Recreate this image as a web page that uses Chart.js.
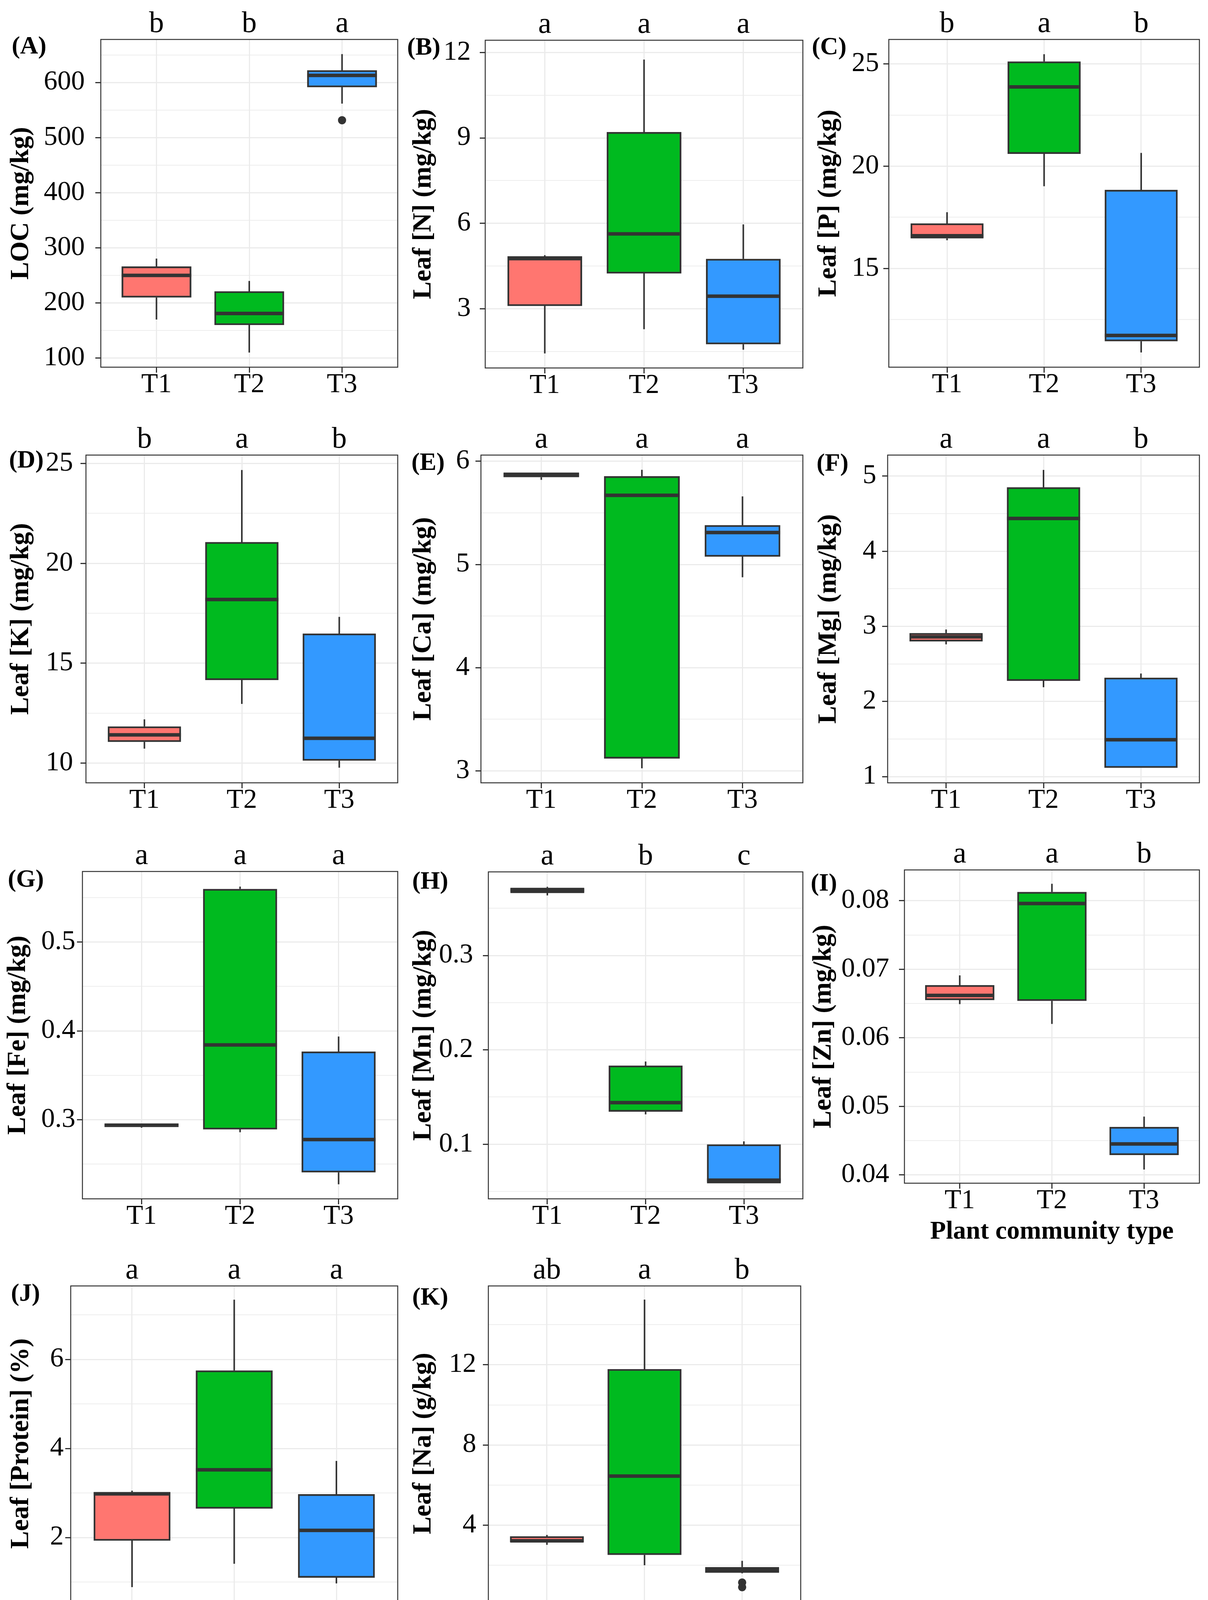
<!DOCTYPE html>
<html>
<head>
<meta charset="utf-8">
<script src="https://cdn.jsdelivr.net/npm/chart.js@4.4.1/dist/chart.umd.min.js"></script>
<style>
  html, body { margin: 0; padding: 0; background: #fff; }
  #page { position: relative; width: 3092px; height: 4277px; background: #fff; }
  #page canvas { position: absolute; }
</style>
</head>
<body>
<div id="page"></div>
<script>
// groups (x categories)
const groups = ['T1', 'T2', 'T3'];

// one entry per panel, A..K
const panelTags = ['(A)', '(B)', '(C)', '(D)', '(E)', '(F)', '(G)', '(H)', '(I)', '(J)', '(K)'];
const yTitles = [
  'LOC (mg/kg)', 'Leaf [N] (mg/kg)', 'Leaf [P] (mg/kg)',
  'Leaf [K] (mg/kg)', 'Leaf [Ca] (mg/kg)', 'Leaf [Mg] (mg/kg)',
  'Leaf [Fe] (mg/kg)', 'Leaf [Mn] (mg/kg)', 'Leaf [Zn] (mg/kg)',
  'Leaf [Protein] (%)', 'Leaf [Na] (g/kg)'
];
const sigLetters = [
  ['b', 'b', 'a'], ['a', 'a', 'a'], ['b', 'a', 'b'],
  ['b', 'a', 'b'], ['a', 'a', 'a'], ['a', 'a', 'b'],
  ['a', 'a', 'a'], ['a', 'b', 'c'], ['a', 'a', 'b'],
  ['a', 'a', 'a'], ['ab', 'a', 'b']
];

// box plot statistics (T1, T2, T3)
const whiskerLow = [
  [170, 110, 561.7], [1.43, 2.28, 1.56], [16.38, 19.02, 10.89],
  [10.72, 12.96, 9.77], [5.82, 3.025, 4.876], [2.76, 2.19, 1.118],
  [0.291, 0.286, 0.2274], [0.3637, 0.1316, 0.0586], [0.06492, 0.06204, 0.0408],
  [0.885, 1.41, 0.97], [3.02, 2.0, 1.6]
];
const q1 = [
  [210, 160, 591.5], [3.10, 4.24, 1.755], [16.47, 20.61, 11.44],
  [11.06, 14.16, 10.12], [5.846, 3.12, 5.076], [2.80, 2.275, 1.118],
  [0.2918, 0.2892, 0.2408], [0.3662, 0.1346, 0.0586], [0.06552, 0.0654, 0.04292],
  [1.93, 2.65, 1.10], [3.15, 2.52, 1.63]
];
const median = [
  [250, 181, 612.8], [4.76, 5.63, 3.44], [16.6, 23.88, 11.72],
  [11.41, 18.19, 11.24], [5.866, 5.67, 5.31], [2.861, 4.436, 1.49],
  [0.2939, 0.3842, 0.2777], [0.3692, 0.144, 0.0619], [0.0662, 0.0796, 0.04452],
  [2.98, 3.52, 2.16], [3.22, 6.45, 1.77]
];
const q3 = [
  [266, 221, 622], [4.84, 9.2, 4.75], [17.2, 25.12, 18.84],
  [11.83, 21.06, 16.48], [5.89, 5.854, 5.38], [2.91, 4.85, 2.316],
  [0.2956, 0.5597, 0.3767], [0.3717, 0.1832, 0.0997], [0.06768, 0.08128, 0.047],
  [3.02, 5.75, 2.97], [3.44, 11.78, 1.91]
];
const whiskerHigh = [
  [280.5, 240, 651.5], [4.88, 11.75, 5.96], [17.75, 25.48, 20.65],
  [12.19, 24.67, 17.32], [5.89, 5.917, 5.66], [2.958, 5.083, 2.372],
  [0.2956, 0.5624, 0.3937], [0.3728, 0.1876, 0.103], [0.06912, 0.08248, 0.04852],
  [3.05, 7.34, 3.72], [3.51, 15.25, 2.22]
];
const outliers = [
  [[], [], [531.5]], [[], [], []], [[], [], []],
  [[], [], []], [[], [], []], [[], [], []],
  [[], [], []], [[], [], []], [[], [], []],
  [[], [], []], [[], [], [1.14, 0.906]]
];

// y axes
const yLimits = [
  [83.5, 678], [0.92, 12.43], [10.17, 26.2],
  [9.01, 25.42], [2.884, 6.06], [0.917, 5.28],
  [0.211, 0.5794], [0.0421, 0.3886], [0.0388, 0.0845],
  [0.57, 7.65], [0.21, 15.93]
];
const yMajor = [
  [100, 200, 300, 400, 500, 600], [3, 6, 9, 12], [15, 20, 25],
  [10, 15, 20, 25], [3, 4, 5, 6], [1, 2, 3, 4, 5],
  [0.3, 0.4, 0.5], [0.1, 0.2, 0.3], [0.04, 0.05, 0.06, 0.07, 0.08],
  [2, 4, 6], [4, 8, 12]
];
const yMajorLabels = [
  ['100', '200', '300', '400', '500', '600'], ['3', '6', '9', '12'], ['15', '20', '25'],
  ['10', '15', '20', '25'], ['3', '4', '5', '6'], ['1', '2', '3', '4', '5'],
  ['0.3', '0.4', '0.5'], ['0.1', '0.2', '0.3'], ['0.04', '0.05', '0.06', '0.07', '0.08'],
  ['2', '4', '6'], ['4', '8', '12']
];
const yMinor = [
  [150, 250, 350, 450, 550, 650], [1.5, 4.5, 7.5, 10.5], [12.5, 17.5, 22.5],
  [12.5, 17.5, 22.5], [3.5, 4.5, 5.5], [1.5, 2.5, 3.5, 4.5],
  [0.25, 0.35, 0.45, 0.55], [0.05, 0.15, 0.25, 0.35], [0.045, 0.055, 0.065, 0.075],
  [1, 3, 5, 7], [2, 6, 10, 14]
];
const xTitle = 'Plant community type';

// colours
const fills = ['#FF7670', '#00BA1F', '#3399FF'];
const INK = '#333333';
const FONT = '"Liberation Serif", "Times New Roman", serif';

// layout of every panel on the page: canvas box + plot area (page px)
const geo = [
  { x: 0,    y: 0,    w: 1030, h: 1064, plot: [258, 101, 1018, 940],   tag: [30, 36], tickPad: 27, titlePad: 14 },
  { x: 1030, y: 0,    w: 1030, h: 1064, plot: [1242, 103, 2055, 942],  tag: [12, 37], tickPad: 23, titlePad: 14 },
  { x: 2060, y: 0,    w: 1032, h: 1064, plot: [2275, 101, 3070, 940],  tag: [18, 38], tickPad: 11, titlePad: 21 },
  { x: 0,    y: 1064, w: 1030, h: 1064, plot: [220, 1165, 1018, 2004], tag: [23, 32], tickPad: 19, titlePad: 14 },
  { x: 1030, y: 1064, w: 1030, h: 1064, plot: [1231, 1165, 2055, 2004], tag: [23, 38], tickPad: 15, titlePad: 14 },
  { x: 2060, y: 1064, w: 1032, h: 1064, plot: [2272, 1165, 3070, 2004], tag: [30, 40], tickPad: 15, titlePad: 21 },
  { x: 0,    y: 2128, w: 1030, h: 1064, plot: [211, 2231, 1018, 3069], tag: [20, 39], tickPad: 4,  titlePad: 6 },
  { x: 1030, y: 2128, w: 1030, h: 1064, plot: [1250, 2232, 2055, 3069], tag: [25, 43], tickPad: 25, titlePad: 14 },
  { x: 2060, y: 2128, w: 1032, h: 1150, plot: [2315, 2227, 3070, 3029], tag: [15, 53], tickPad: 25, titlePad: 8, xTitlePad: 84 },
  { x: 0,    y: 3192, w: 1030, h: 1085, plot: [181, 3292, 1018, 4099], tag: [28, 38], tickPad: 4,  titlePad: 14, xTitlePad: 13 },
  { x: 1030, y: 3192, w: 1030, h: 1085, plot: [1250, 3292, 2055, 4099], tag: [25, 48], tickPad: 17, titlePad: 14, xTitlePad: 13 }
];

const BOX_HALF = 0.375;   // half box width in category units (ggplot 0.75)

// whiskers under the boxes, medians on top
const boxParts = {
  id: 'boxParts',
  beforeDatasetsDraw(chart, args, opts) {
    const k = opts.panel;
    const { ctx, scales: { x, y } } = chart;
    ctx.save();
    ctx.strokeStyle = INK;
    ctx.lineWidth = 4;
    groups.forEach((g, i) => {
      const cx = x.getPixelForValue(i + 1);
      ctx.beginPath();
      ctx.moveTo(cx, y.getPixelForValue(whiskerHigh[k][i]));
      ctx.lineTo(cx, y.getPixelForValue(q3[k][i]));
      ctx.moveTo(cx, y.getPixelForValue(q1[k][i]));
      ctx.lineTo(cx, y.getPixelForValue(whiskerLow[k][i]));
      ctx.stroke();
    });
    ctx.restore();
  },
  afterDatasetsDraw(chart, args, opts) {
    const k = opts.panel;
    const { ctx, scales: { x, y } } = chart;
    ctx.save();
    ctx.strokeStyle = INK;
    ctx.lineWidth = 9;
    groups.forEach((g, i) => {
      const my = y.getPixelForValue(median[k][i]);
      ctx.beginPath();
      ctx.moveTo(x.getPixelForValue(i + 1 - BOX_HALF), my);
      ctx.lineTo(x.getPixelForValue(i + 1 + BOX_HALF), my);
      ctx.stroke();
    });
    ctx.restore();
  },
  afterDraw(chart, args, opts) {
    const k = opts.panel;
    const { ctx, chartArea: a, scales: { x } } = chart;
    ctx.save();
    // panel border
    ctx.strokeStyle = INK;
    ctx.lineWidth = 2.5;
    ctx.strokeRect(a.left, a.top, a.right - a.left, a.bottom - a.top);
    // significance letters
    ctx.fillStyle = '#000';
    ctx.font = '76px ' + FONT;
    ctx.textAlign = 'center';
    ctx.textBaseline = 'alphabetic';
    sigLetters[k].forEach((s, i) => ctx.fillText(s, x.getPixelForValue(i + 1), a.top - 19));
    // panel tag
    ctx.font = 'bold 64px ' + FONT;
    ctx.textAlign = 'left';
    ctx.fillText(panelTags[k], opts.tag[0], a.top + opts.tag[1]);
    ctx.restore();
  }
};

const page = document.getElementById('page');

geo.forEach((g, k) => {
  const cv = document.createElement('canvas');
  cv.width = g.w;
  cv.height = g.h;
  cv.style.left = g.x + 'px';
  cv.style.top = g.y + 'px';
  cv.style.width = g.w + 'px';
  cv.style.height = g.h + 'px';
  page.appendChild(cv);

  const [L, T, R, B] = g.plot;
  const plotW = R - L;

  new Chart(cv, {
    type: 'bar',
    data: {
      datasets: [{
        type: 'bar',
        data: groups.map((s, i) => ({ x: i + 1, y: [q1[k][i], q3[k][i]] })),
        backgroundColor: fills,
        borderColor: INK,
        borderWidth: 4.5,
        borderSkipped: false,
        barThickness: plotW / 3.2 * BOX_HALF * 2,
        grouped: false,
        order: 2
      }, {
        type: 'scatter',
        data: outliers[k].flatMap((vals, i) => vals.map(v => ({ x: i + 1, y: v }))),
        pointRadius: 10.5,
        pointBackgroundColor: INK,
        pointBorderWidth: 0,
        order: 1
      }]
    },
    options: {
      responsive: false,
      devicePixelRatio: 1,
      animation: false,
      events: [],
      layout: { padding: { left: 0, top: T - g.y, right: g.x + g.w - R, bottom: 0 } },
      plugins: {
        legend: { display: false },
        tooltip: { enabled: false },
        boxParts: { panel: k, tag: g.tag }
      },
      scales: {
        x: {
          type: 'linear',
          min: 0.4,
          max: 3.6,
          offset: false,
          afterBuildTicks: s => { s.ticks = groups.map((n, i) => ({ value: i + 1 })); },
          afterFit: s => { s.height = g.y + g.h - B; },
          ticks: {
            autoSkip: false,
            maxRotation: 0,
            padding: -3,
            color: '#000',
            font: { family: FONT, size: 70, lineHeight: 1 },
            callback: v => groups[Math.round(v) - 1]
          },
          grid: { offset: false, color: '#EBEBEB', lineWidth: 3, tickLength: 14, tickColor: INK, tickWidth: 3 },
          border: { display: false },
          title: {
            display: g.xTitlePad !== undefined,
            text: xTitle,
            color: '#000',
            font: { family: FONT, size: 66, weight: 'bold' },
            padding: { top: 0, bottom: g.xTitlePad || 0 }
          }
        },
        y: {
          type: 'linear',
          min: yLimits[k][0],
          max: yLimits[k][1],
          beginAtZero: false,
          afterBuildTicks: s => {
            const t = yMajor[k].map((v, i) => ({ value: v, txt: yMajorLabels[k][i] }))
              .concat(yMinor[k].map(v => ({ value: v, minor: true, txt: '' })));
            s.ticks = t.sort((a, b) => a.value - b.value);
          },
          afterFit: s => { s.width = L - g.x; },
          ticks: {
            autoSkip: false,
            padding: g.tickPad,
            color: '#000',
            font: { family: FONT, size: 70 },
            callback: (v, i, ticks) => ticks[i].txt
          },
          grid: {
            color: '#EBEBEB',
            lineWidth: c => (c.tick && c.tick.minor ? 1.8 : 3),
            tickLength: 14,
            tickWidth: 3,
            tickColor: c => (c.tick && c.tick.minor ? 'rgba(0,0,0,0)' : INK)
          },
          border: { display: false },
          title: {
            display: true,
            text: yTitles[k],
            color: '#000',
            font: { family: FONT, size: 68, weight: 'bold' },
            padding: { top: g.titlePad, bottom: 0 }
          }
        }
      }
    },
    plugins: [boxParts]
  });
});
</script>
</body>
</html>
